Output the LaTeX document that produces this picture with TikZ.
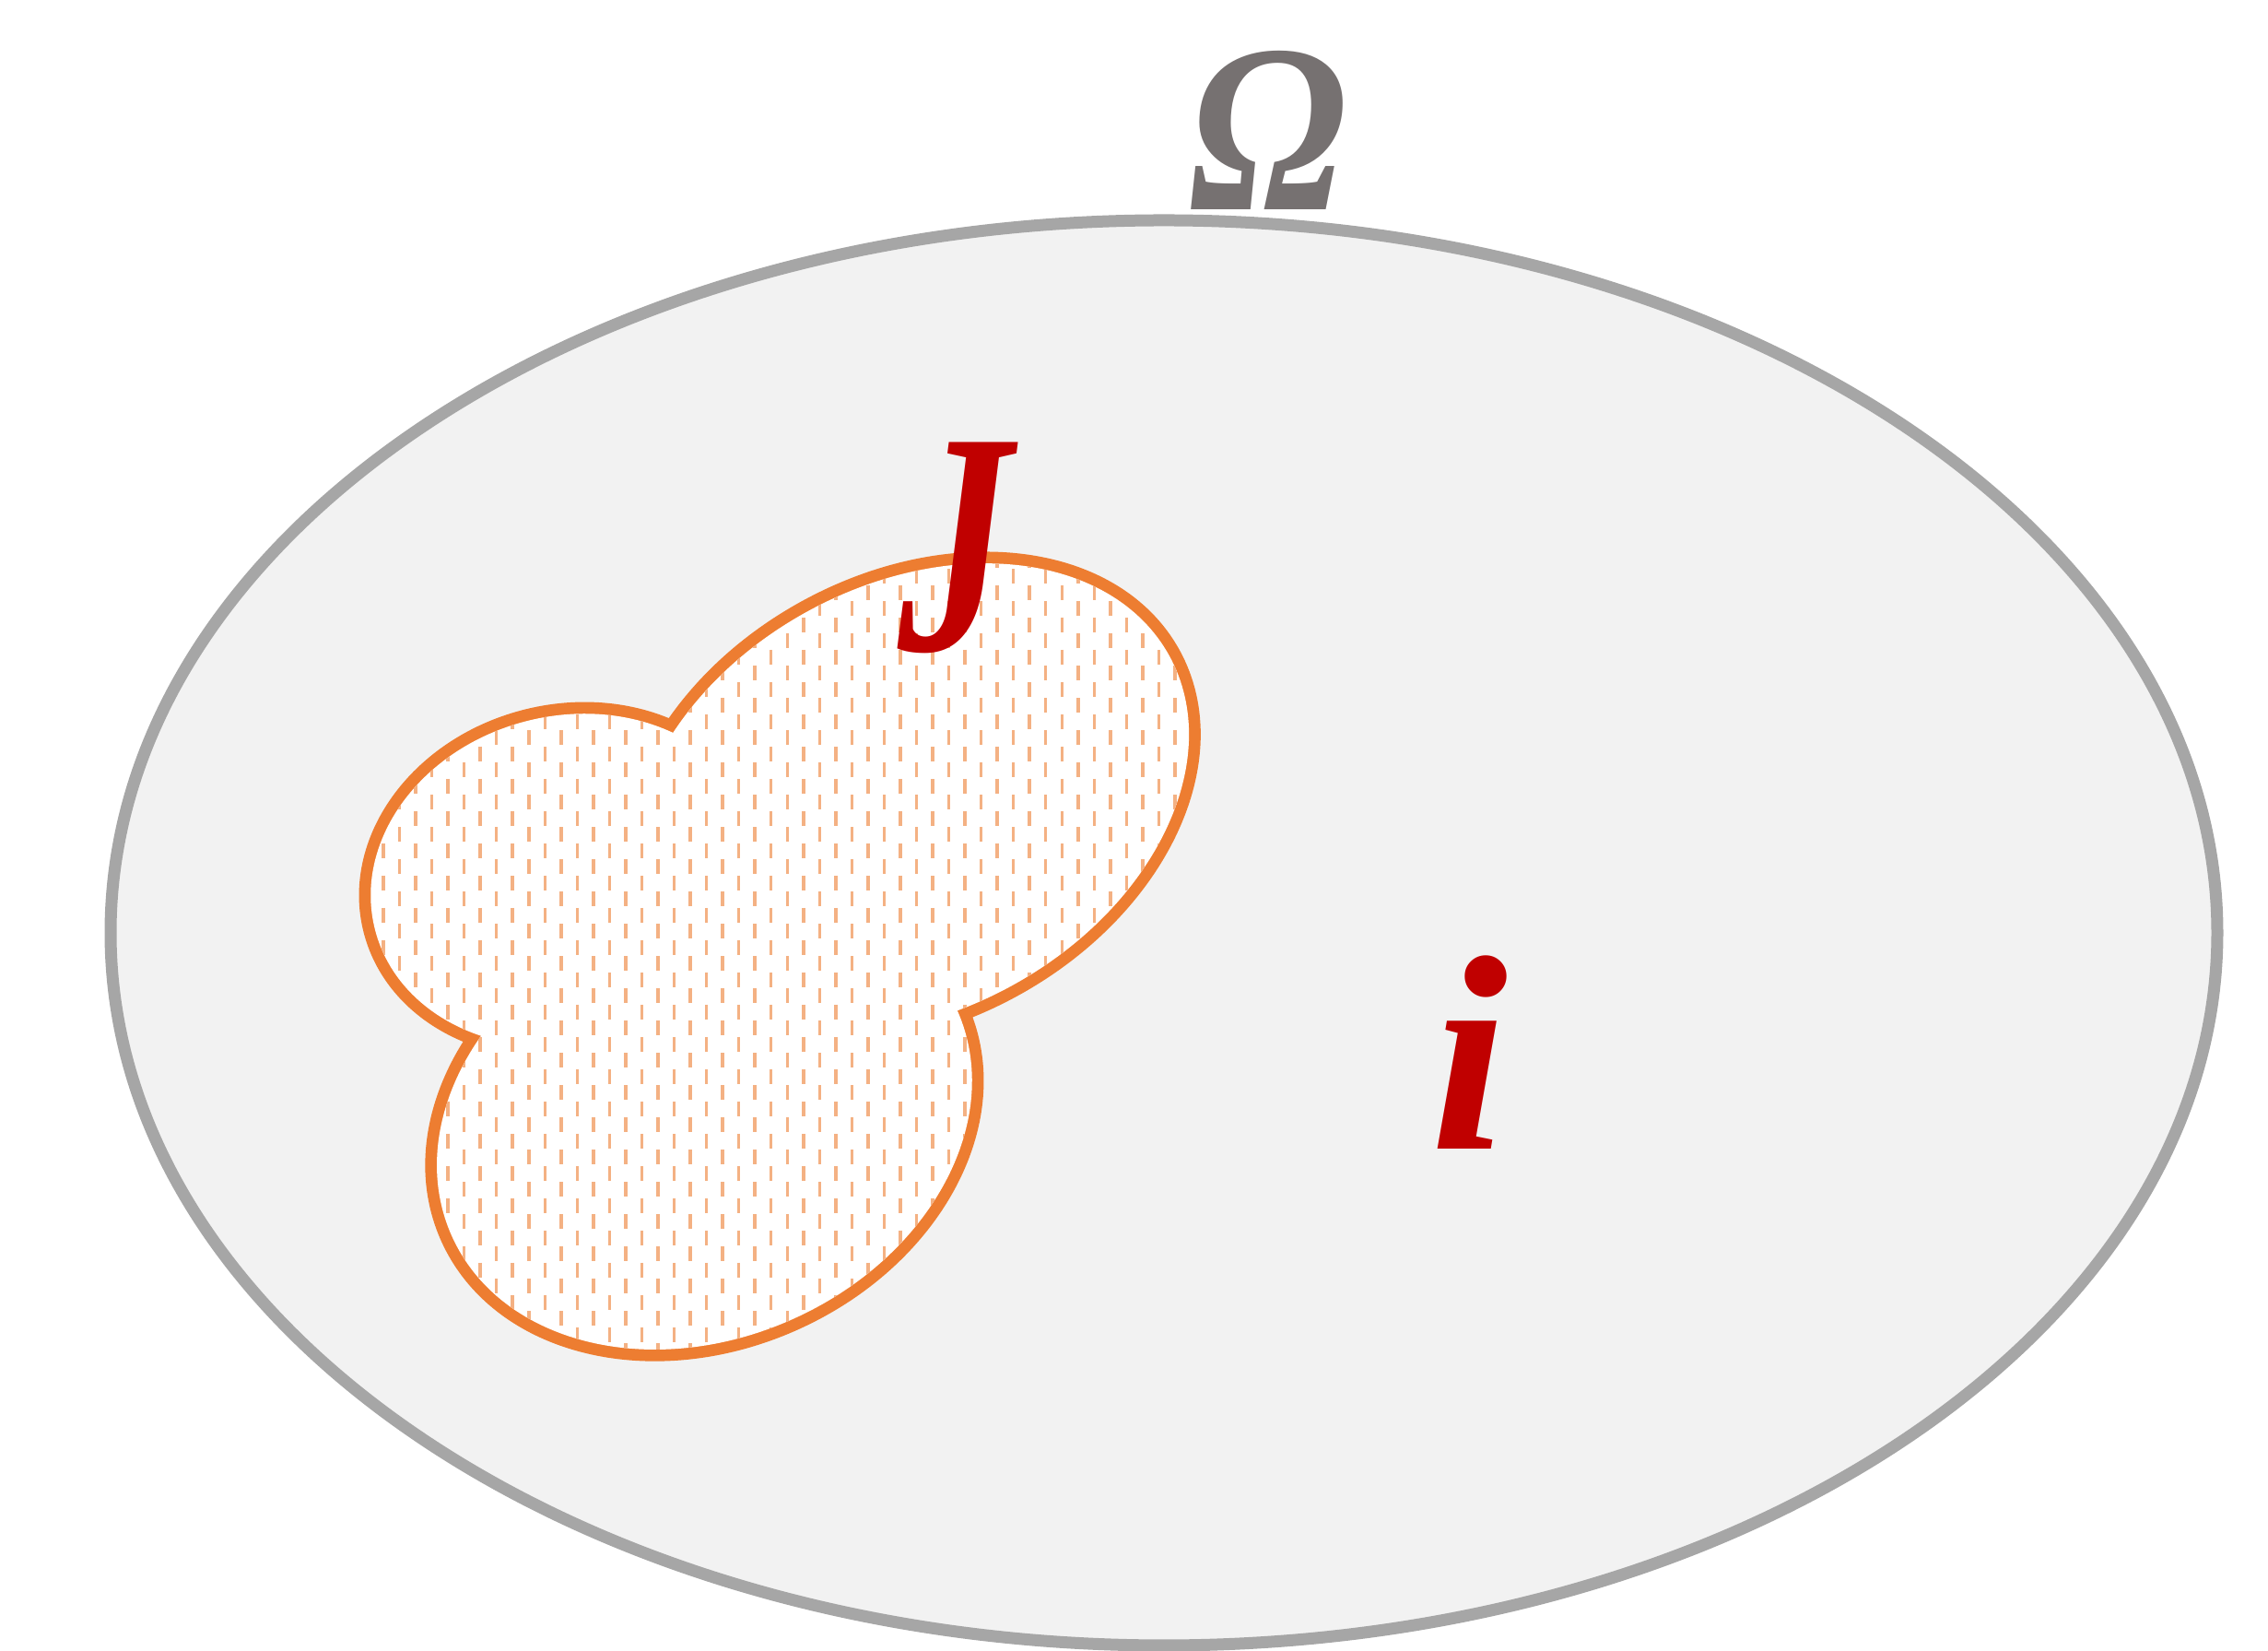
\documentclass[tikz,border=0pt]{standalone}
\usepackage{fontspec}
\setmainfont{Liberation Serif}
\usepackage{tikz}
\definecolor{regiongray}{HTML}{F2F2F2}
\definecolor{rimgray}{HTML}{A6A6A6}
\definecolor{labelgray}{HTML}{767171}
\definecolor{blobedge}{HTML}{ED7D31}
\definecolor{hatchorange}{HTML}{F4B183}
\definecolor{deepred}{HTML}{C00000}

% the set J as a union of three tilted lobes
\def\lobes{(6.147,8.362) ellipse [x radius=2.146,y radius=1.779,rotate=14.7]
  (7.644,5.727) ellipse [x radius=3.003,y radius=2.333,rotate=24.0]
  (9.871,9.247) ellipse [x radius=3.215,y radius=2.313,rotate=28.8]}

\begin{document}
\begin{tikzpicture}[
    hatch/.style={draw=hatchorange,line width=0.035cm,dash pattern=on 0.16cm off 0.19cm},
    letter/.style={inner sep=0pt}]
  \useasboundingbox (0,0) rectangle (24.61,17.91);
  \draw[fill=regiongray,draw=rimgray,line width=0.13cm] (12.63,7.79) ellipse [x radius=11.43,y radius=7.73];
  % outer half of a double width rim survives the white fill
  \draw[blobedge,line width=0.254cm] \lobes;
  \fill[white] \lobes;
  \begin{scope}
    \clip \lobes;
    \foreach \j in {-1,...,26}{
      \draw[hatch] ({4.16+0.3506*\j},12.26) -- ++(0,-9.5);
      \draw[hatch] ({4.3353+0.3506*\j},12.435) -- ++(0,-9.5);
    }
  \end{scope}
  \node[letter,text=labelgray,xscale=0.88,font=\bfseries\itshape\fontsize{74}{74}\selectfont] (omega) at (13.76,16.50) {Ω};
  \node[letter,text=deepred,xscale=0.72,font=\bfseries\itshape\fontsize{98}{98}\selectfont] (setJ) at (10.36,11.97) {J};
  \node[letter,text=deepred,font=\bfseries\itshape\fontsize{86}{86}\selectfont] (pointI) at (15.94,6.49) {i};
\end{tikzpicture}
\end{document}
